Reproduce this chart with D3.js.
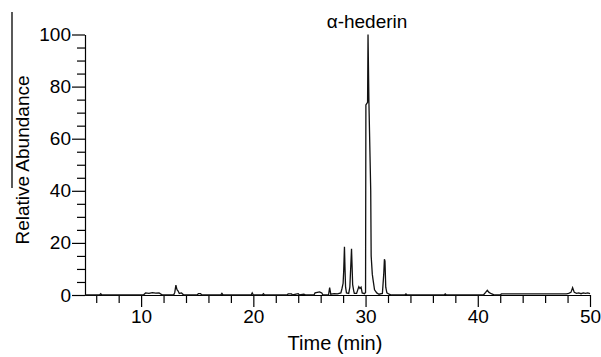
<!DOCTYPE html>
<html>
<head>
<meta charset="utf-8">
<script src="https://cdn.jsdelivr.net/npm/d3@7"></script>
<style>
html,body{margin:0;padding:0;background:#fff;}
svg{display:block;}
text{font-family:"Liberation Sans",Arial,sans-serif;fill:#000;}
</style>
</head>
<body>
<svg id="chart" width="601" height="357"></svg>
<script>
// ---- data ----
const times = [
  5.0, 6.3, 6.4, 6.5, 10.2, 10.4, 10.7, 11.0, 11.3, 11.6, 11.9,
  12.9, 13.0, 13.1, 13.2, 13.3, 13.4, 13.6, 13.8,
  15.0, 15.1, 15.3, 15.4, 17.1, 17.2, 17.3, 19.8, 19.9, 20.0,
  20.8, 20.9, 21.0, 23.0, 23.1, 23.4, 23.5, 23.8, 24.0, 24.1, 24.5, 24.7,
  25.4, 25.5, 25.7, 25.9, 26.1, 26.2, 26.7, 26.8, 26.9, 27.2, 27.5,
  27.8, 27.9, 28.0, 28.05, 28.12, 28.17, 28.22, 28.3, 28.5, 28.6, 28.75, 28.8, 28.85, 28.95,
  29.0, 29.2, 29.4, 29.5, 29.6, 29.7, 29.9,
  30.0, 30.03, 30.18, 30.22, 30.3, 30.46, 30.5, 30.6, 30.67, 30.8, 31.0,
  31.2, 31.5, 31.62, 31.68, 31.73, 31.8, 31.9, 32.1, 32.3,
  33.5, 33.6, 33.7, 37.0, 37.1, 37.2, 40.5, 40.7, 40.85, 41.0, 41.2, 41.5,
  42.0, 42.1, 47.9, 48.1, 48.3, 48.45, 48.6, 48.8, 49.0, 49.2, 49.4, 49.6, 49.8, 50.0
];
const abundance = [
  0, 0, 0.5, 0, 0, 0.8, 0.6, 0.9, 0.7, 0.8, 0,
  0, 1.0, 3.8, 2.0, 1.5, 0.6, 0.8, 0,
  0, 0.5, 0.5, 0, 0, 0.6, 0, 0, 0.8, 0,
  0, 0.5, 0, 0, 0.4, 0.4, 0, 0.3, 0.5, 0, 0.3, 0,
  0, 0.8, 1.0, 1.2, 0.8, 0, 0, 2.8, 0.3, 0.5, 0.4,
  0.8, 2.5, 4.5, 9, 18.5, 10, 3, 0.8, 0.6, 3, 17.7, 11, 4, 1.5,
  0.6, 0.6, 3.2, 2.5, 3.0, 0.8, 0.5,
  1, 73, 74, 100, 74, 40, 15, 8, 5.8, 2, 0.8,
  0.3, 0.6, 8, 13.7, 13, 3, 0.8, 0.3, 0,
  0, 0.4, 0, 0, 0.4, 0, 0, 1.0, 1.8, 1.0, 0.5, 0,
  0, 0.4, 0.4, 0.6, 1.0, 2.8, 1.0, 0.6, 0.8, 0.5, 0.8, 0.6, 0.8, 0.5
];
const xMajorTicks = [10, 20, 30, 40, 50];
const xMinorTicks = [6, 8, 12, 14, 16, 18, 22, 24, 26, 28, 32, 34, 36, 38, 42, 44, 46, 48];
const yMajorTicks = [0, 20, 40, 60, 80, 100];
const yMinorTicks = [5, 10, 15, 25, 30, 35, 45, 50, 55, 65, 70, 75, 85, 90, 95];
const xLabel = "Time (min)";
const yLabel = "Relative Abundance";
const peakLabel = "α-hederin";
const peakTime = 30.22;
const peakValue = 100;

// ---- chart ----
const svg = d3.select("#chart");
const x = d3.scaleLinear().domain([5, 50]).range([85, 590]);
const y = d3.scaleLinear().domain([0, 100]).range([295, 34.5]);

const gx = svg.append("g").attr("transform", `translate(0,${y(0)})`);
gx.call(d3.axisBottom(x).tickValues(xMinorTicks).tickSize(8).tickFormat(""));
gx.call(g => g.select(".domain").remove());
const gx2 = svg.append("g").attr("transform", `translate(0,${y(0)})`);
gx2.call(d3.axisBottom(x).tickValues(xMajorTicks).tickSize(12).tickSizeOuter(0).tickPadding(3).tickFormat(d3.format("d")));

const gy = svg.append("g").attr("transform", `translate(${x(5)},0)`);
gy.call(d3.axisLeft(y).tickValues(yMinorTicks).tickSize(8).tickFormat(""));
gy.call(g => g.select(".domain").remove());
const gy2 = svg.append("g").attr("transform", `translate(${x(5)},0)`);
gy2.call(d3.axisLeft(y).tickValues(yMajorTicks).tickSize(13).tickSizeOuter(0).tickPadding(1).tickFormat(d3.format("d")));

svg.selectAll(".tick text").style("font-size", "19px").style("font-family", "Liberation Sans, Arial, sans-serif");
svg.selectAll(".domain, .tick line").attr("stroke", "#000").attr("stroke-width", 1.2);

const line = d3.line().x((d, i) => x(times[i])).y(d => y(d));
svg.append("path")
  .datum(abundance)
  .attr("d", line)
  .attr("fill", "none")
  .attr("stroke", "#111")
  .attr("stroke-width", 1.3)
  .attr("stroke-linejoin", "miter");

svg.append("text").attr("x", x(peakTime) - 1).attr("y", y(peakValue) - 7)
  .attr("text-anchor", "middle").style("font-size", "19px").text(peakLabel);

svg.append("text").attr("x", 335).attr("y", 350)
  .attr("text-anchor", "middle").style("font-size", "20px").text(xLabel);

svg.append("text").attr("transform", "translate(29,160) rotate(-90)")
  .attr("text-anchor", "middle").style("font-size", "19px").text(yLabel);

svg.append("line").attr("x1", 12).attr("x2", 12).attr("y1", 12).attr("y2", 188)
  .attr("stroke", "#000").attr("stroke-width", 1.3);
</script>
</body>
</html>
